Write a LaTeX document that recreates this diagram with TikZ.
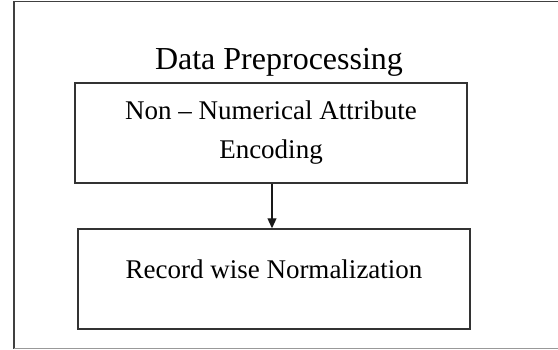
\documentclass[tikz,border=0pt]{standalone}
\usepackage{fontspec}
\setmainfont{Liberation Serif}
\usetikzlibrary{arrows.meta}
\begin{document}
\begin{tikzpicture}[x=1pt,y=-1pt,
  procbox/.style={draw=black!80, line width=1.5pt, rectangle, minimum width=392pt, minimum height=100pt, inner sep=0pt, align=center, font=\fontsize{27}{39}\selectfont},
  flow/.style={draw=black!90, line width=1.2pt, -{Triangle[length=10pt,width=9pt]}}]
\useasboundingbox (0,0) rectangle (558,349);
\fill[white] (0,0) rectangle (558,349);
% outer frame (right side runs off the picture)
\draw[black!75, line width=1.8pt] (562,1.5) -- (14,1.5) -- (14,348.5);
\draw[black!40, line width=1pt] (14,348.5) -- (562,348.5);
\node[anchor=base, font=\fontsize{32}{36}\selectfont] (title) at (279,69) {Data Preprocessing};
\node[procbox] (enc) at (271,133) {Non -- Numerical Attribute\\Encoding};
\node[procbox, text depth=20pt] (norm) at (274,279) {Record wise Normalization};
\draw[flow] (enc.south -| 272,0) -- (norm.north -| 272,0);
\end{tikzpicture}
\end{document}
